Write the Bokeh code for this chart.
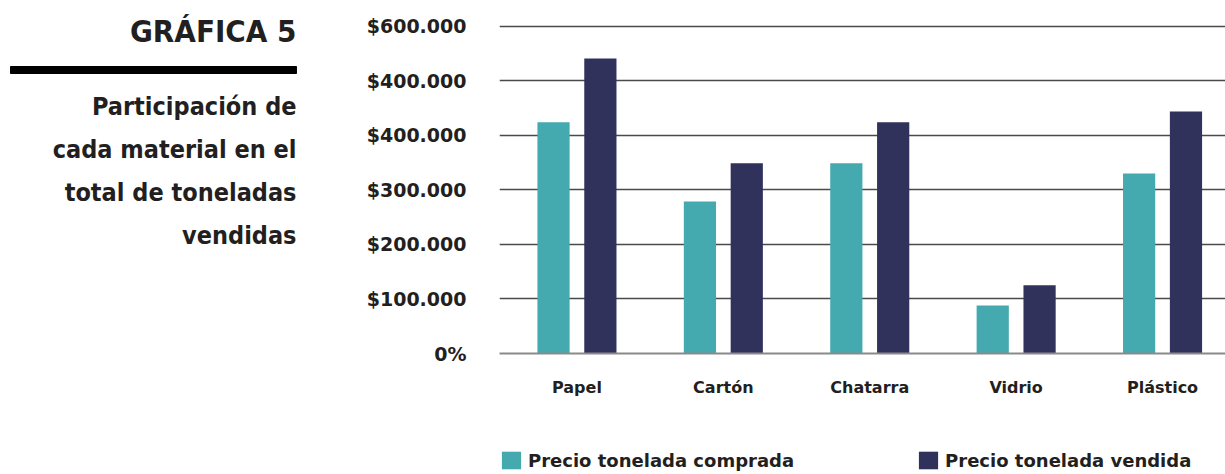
from bokeh.plotting import figure
from bokeh.models import Range1d, FixedTicker, Legend, LegendItem, ColumnDataSource
from bokeh.layouts import row, column
from bokeh.embed import file_html
from bokeh.resources import INLINE
from bokeh.core.properties import value
from bokeh.transform import dodge

# ---- data ----
materials = ["Papel", "Cartón", "Chatarra", "Vidrio", "Plástico"]
precio_comprada = [424000, 279000, 349000, 88000, 330000]
precio_vendida = [541000, 349000, 424000, 125000, 444000]
y_ticks = [0, 100000, 200000, 300000, 400000, 500000, 600000]
y_tick_labels = ["0%", "$100.000", "$200.000", "$300.000", "$400.000", "$400.000", "$600.000"]
series_names = ["Precio tonelada comprada", "Precio tonelada vendida"]
title_text = "GRÁFICA 5"
subtitle_lines = ["Participación de", "cada material en el", "total de toneladas", "vendidas"]

TEAL = "#45AAB0"
NAVY = "#30325C"
INK = "#231F20"
NARROW = "DejaVu Sans Condensed, Roboto, sans-serif"
LABEL_FONT = "DejaVu Sans"

W, H = 1225, 474
LEFT_W = 308
MAIN_H = 449

# ---- left title panel ----
left = figure(width=LEFT_W, height=H, x_range=Range1d(0, LEFT_W), y_range=Range1d(H, 0),
              output_backend="svg", toolbar_location=None, min_border=0,
              x_axis_location=None, y_axis_location=None)
left.grid.visible = False
left.outline_line_color = None

left.text(x=[296], y=[30], text=[title_text], text_font=value(NARROW), text_font_style="bold",
          text_font_size="31px", text_align="right", text_baseline="alphabetic", text_color=INK)
left.quad(left=[10], right=[296], top=[66], bottom=[73], color="#000000")
left.text(x=[296] * len(subtitle_lines), y=[106 + 43 * i for i in range(len(subtitle_lines))],
          text=subtitle_lines, text_font=value(NARROW), text_font_style="bold",
          text_font_size="25px", text_align="right", text_baseline="alphabetic", text_color=INK)

# ---- main chart ----
source = ColumnDataSource(dict(x=list(range(len(materials))), comprada=precio_comprada,
                               vendida=precio_vendida))

p = figure(width=W - LEFT_W, height=MAIN_H, x_range=Range1d(-0.529, 4.43), y_range=Range1d(0, 620000),
           output_backend="svg", toolbar_location=None,
           min_border_left=191, min_border_right=0, min_border_top=15,
           min_border_bottom=MAIN_H - 353)
p.outline_line_color = None

p.vbar(x=dodge("x", -0.16, range=p.x_range), top="comprada", width=0.22, source=source,
       fill_color=TEAL, line_color=None)
p.vbar(x=dodge("x", 0.16, range=p.x_range), top="vendida", width=0.22, source=source,
       fill_color=NAVY, line_color=None)

p.xaxis.ticker = FixedTicker(ticks=list(range(len(materials))))
p.xaxis.major_label_overrides = {i: m for i, m in enumerate(materials)}
p.xaxis.axis_line_color = "#8a8a8a"
p.xaxis.axis_line_width = 2
p.xaxis.major_tick_line_color = None
p.xaxis.minor_tick_line_color = None
p.xaxis.major_label_standoff = 18
p.xaxis.major_label_text_font = LABEL_FONT
p.xaxis.major_label_text_font_style = "bold"
p.xaxis.major_label_text_font_size = "16px"
p.xaxis.major_label_text_color = INK

p.yaxis.ticker = FixedTicker(ticks=y_ticks)
p.yaxis.major_label_overrides = dict(zip(y_ticks, y_tick_labels))
p.yaxis.axis_line_color = None
p.yaxis.major_tick_line_color = None
p.yaxis.minor_tick_line_color = None
p.yaxis.major_label_standoff = 27
p.yaxis.major_label_text_font = LABEL_FONT
p.yaxis.major_label_text_font_style = "bold"
p.yaxis.major_label_text_font_size = "19px"
p.yaxis.major_label_text_color = INK

p.xgrid.grid_line_color = None
p.ygrid.grid_line_color = "#4a4a4a"
p.ygrid.grid_line_width = 1.5

# ---- legend strip ----
lg = figure(width=W - LEFT_W, height=H - MAIN_H, x_range=Range1d(0, 1), y_range=Range1d(0, 1),
            output_backend="svg", toolbar_location=None, min_border=0, min_border_left=187,
            x_axis_location=None, y_axis_location=None)
lg.grid.visible = False
lg.outline_line_color = None
k1 = lg.vbar(x=[0], top=[0], bottom=[0], width=0, fill_color=TEAL, line_color=None)
k2 = lg.vbar(x=[0], top=[0], bottom=[0], width=0, fill_color=NAVY, line_color=None)

legend = Legend(items=[LegendItem(label=series_names[0], renderers=[k1]),
                       LegendItem(label=series_names[1], renderers=[k2])],
                orientation="horizontal", location="top_left")
legend.padding = 0
legend.margin = 0
legend.spacing = 122
legend.label_standoff = 5
legend.glyph_width = 24
legend.glyph_height = 22
legend.border_line_color = None
legend.background_fill_alpha = 0
legend.label_text_font = LABEL_FONT
legend.label_text_font_style = "bold"
legend.label_text_font_size = "18px"
legend.label_text_color = INK
lg.add_layout(legend, "center")

layout = row(left, column(p, lg, spacing=0), spacing=0)
open("out.html", "w").write(file_html(layout, INLINE))
